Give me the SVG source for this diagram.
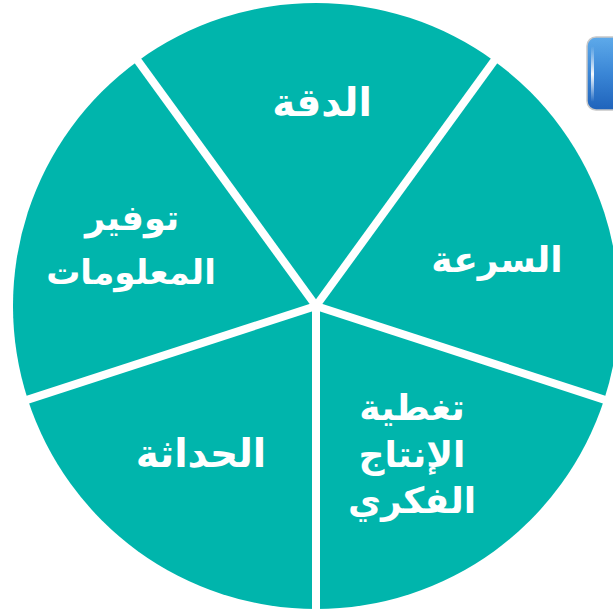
<svg xmlns="http://www.w3.org/2000/svg" width="613" height="611" viewBox="0 0 613 611">
  <defs>
    <linearGradient id="btn" x1="0" y1="0" x2="0" y2="1">
      <stop offset="0" stop-color="#5eaaea"/>
      <stop offset="0.5" stop-color="#3a86d6"/>
      <stop offset="1" stop-color="#1f63bb"/>
    </linearGradient>
    <linearGradient id="hl" x1="0" y1="0" x2="0" y2="1">
      <stop offset="0" stop-color="#ffffff" stop-opacity="0"/>
      <stop offset="0.5" stop-color="#ffffff" stop-opacity="0.95"/>
      <stop offset="1" stop-color="#ffffff" stop-opacity="0"/>
    </linearGradient>
  </defs>
  <style>
    .slice { fill: #00b5ac; }
    .sep { stroke: #ffffff; stroke-width: 8; stroke-linecap: butt; }
    .lbl { fill: #ffffff; font-family: "DejaVu Sans", sans-serif; font-weight: bold; font-size: 36px; text-anchor: middle; }
  </style>
  <rect width="613" height="611" fill="#ffffff"/>
  <g id="button">
    <rect x="587" y="37" width="40" height="73" rx="9" fill="url(#btn)" stroke="#c8c8c8" stroke-width="1.5"/>
    <rect x="591" y="46" width="3" height="56" rx="1.5" fill="url(#hl)"/>
  </g>
  <g id="slice-accuracy">
    <path class="slice" d="M316 306 L137.9 60.9 A303 303 0 0 1 494.1 60.9 Z"/>
    <text class="lbl" x="322" y="116" style="font-size:39px">الدقة</text>
  </g>
  <g id="slice-speed">
    <path class="slice" d="M316 306 L494.1 60.9 A303 303 0 0 1 604.2 399.6 Z"/>
    <text class="lbl" x="497" y="272" style="font-size:36px">السرعة</text>
  </g>
  <g id="slice-coverage">
    <path class="slice" d="M316 306 L604.2 399.6 A303 303 0 0 1 316 609 Z"/>
    <text class="lbl" x="412" y="420" style="font-size:36px">تغطية</text>
    <text class="lbl" x="412" y="467" style="font-size:36px">الإنتاج</text>
    <text class="lbl" x="412" y="513" style="font-size:36px">الفكري</text>
  </g>
  <g id="slice-modernity">
    <path class="slice" d="M316 306 L316 609 A303 303 0 0 1 27.8 399.6 Z"/>
    <text class="lbl" x="201" y="467" style="font-size:39px">الحداثة</text>
  </g>
  <g id="slice-info">
    <path class="slice" d="M316 306 L27.8 399.6 A303 303 0 0 1 137.9 60.9 Z"/>
    <text class="lbl" x="132" y="230" style="font-size:35px">توفير</text>
    <text class="lbl" x="131" y="284" style="font-size:34px">المعلومات</text>
  </g>
  <g id="connectors">
    <line class="sep" x1="316" y1="306" x2="133.2" y2="54.4"/>
    <line class="sep" x1="316" y1="306" x2="498.8" y2="54.4"/>
    <line class="sep" x1="316" y1="306" x2="611.8" y2="402.1"/>
    <line class="sep" x1="316" y1="306" x2="316" y2="617"/>
    <line class="sep" x1="316" y1="306" x2="20.2" y2="402.1"/>
  </g>
</svg>
